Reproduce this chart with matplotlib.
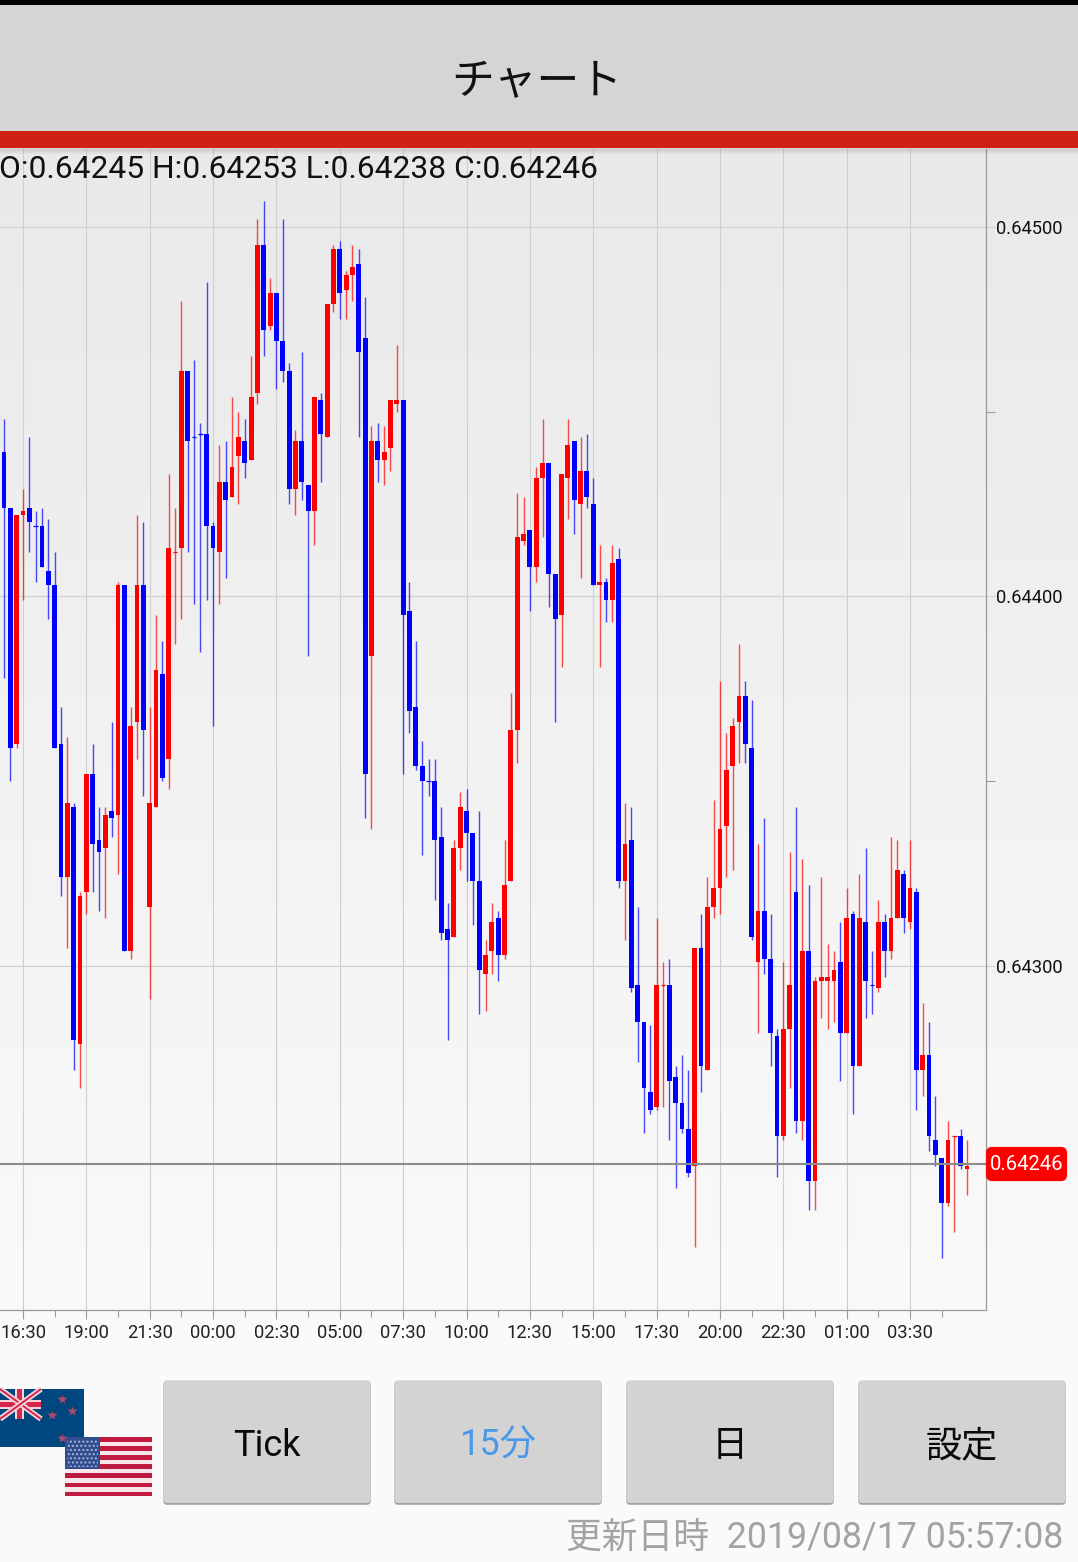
#!/usr/bin/env python3
# NZD/USD 15 minute candles as shown on the chart screen of the app. python3 plot.py -> out.png
import numpy as np
import matplotlib
matplotlib.use("Agg")
import matplotlib.pyplot as plt
from matplotlib.patches import Rectangle, FancyBboxPatch

JP = ["Roboto", "Noto Sans CJK JP", "DejaVu Sans"]
plt.rcParams["font.family"] = JP

# prices are in 0.00001 steps above 0.64000, first bar is three bars left of the 16:30 tick
first_bar = -3
opens = [439, 424, 360, 422, 424, 419, 419, 407, 403, 360,
         324, 343, 279, 320, 352, 334, 332, 342, 341, 403,
         304, 366, 403, 316, 343, 379, 356, 412, 413, 461,
         443, 444, 444, 419, 412, 431, 427, 438, 442, 437,
         455, 495, 473, 482, 469, 461, 429, 442, 430, 423,
         453, 443, 479, 494, 483, 487, 490, 470, 384, 442,
         437, 440, 452, 453, 396, 370, 354, 350, 350, 335,
         310, 308, 332, 342, 336, 323, 298, 304, 313, 303,
         323, 364, 415, 418, 408, 432, 436, 406, 395, 432,
         442, 425, 434, 425, 403, 404, 399, 410, 323, 334,
         295, 285, 266, 262, 295, 295, 270, 263, 256, 246,
         305, 272, 316, 321, 338, 354, 366, 373, 359, 301,
         315, 302, 281, 254, 283, 320, 258, 304, 242, 296,
         296, 296, 301, 282, 314, 273, 312, 295, 294, 312,
         304, 313, 325, 312, 320, 272, 276, 253, 248, 236,
         254, 254, 245]
closes = [424, 359, 422, 423, 420, 419, 408, 403, 359, 324,
          344, 280, 319, 352, 333, 331, 341, 340, 403, 304,
          365, 403, 364, 344, 380, 351, 413, 412, 461, 442,
          443, 444, 419, 413, 431, 426, 435, 443, 436, 454,
          495, 472, 482, 469, 461, 429, 442, 431, 423, 454,
          444, 479, 494, 482, 487, 489, 466, 352, 442, 437,
          439, 453, 453, 395, 369, 354, 350, 350, 334, 309,
          307, 332, 343, 336, 323, 299, 303, 312, 303, 322,
          364, 416, 417, 408, 432, 436, 406, 394, 433, 441,
          426, 434, 427, 403, 404, 399, 409, 323, 333, 294,
          285, 267, 261, 295, 295, 269, 263, 256, 244, 305,
          273, 316, 321, 337, 353, 365, 373, 360, 308, 315,
          302, 282, 254, 283, 295, 258, 304, 242, 296, 297,
          297, 299, 282, 313, 273, 313, 296, 295, 312, 304,
          313, 326, 313, 321, 272, 276, 254, 249, 236, 253,
          254, 246, 246]
highs = [448, 424, 422, 429, 443, 423, 424, 421, 412, 370,
         362, 344, 320, 352, 360, 343, 343, 366, 404, 403,
         370, 422, 420, 370, 395, 388, 433, 424, 480, 461,
         464, 447, 485, 420, 441, 442, 454, 450, 448, 465,
         502, 507, 486, 482, 502, 463, 445, 466, 430, 454,
         455, 479, 495, 496, 488, 495, 494, 481, 446, 447,
         446, 453, 468, 453, 404, 388, 361, 356, 356, 343,
         317, 334, 347, 348, 336, 342, 307, 317, 315, 334,
         374, 428, 427, 418, 435, 448, 436, 406, 433, 448,
         442, 443, 444, 432, 414, 405, 414, 413, 344, 343,
         316, 285, 284, 313, 301, 302, 273, 276, 272, 305,
         314, 324, 345, 377, 363, 367, 387, 377, 372, 333,
         340, 314, 283, 301, 331, 343, 329, 322, 297, 324,
         306, 304, 312, 321, 315, 325, 332, 304, 318, 314,
         335, 334, 326, 334, 321, 290, 285, 265, 248, 258,
         254, 256, 253]
lows = [378, 350, 359, 399, 412, 404, 408, 394, 359, 319,
        305, 272, 267, 314, 320, 315, 313, 335, 325, 304,
        302, 356, 346, 291, 343, 350, 348, 387, 394, 412,
        398, 385, 399, 365, 398, 405, 427, 425, 432, 437,
        452, 465, 472, 456, 458, 425, 422, 426, 384, 414,
        431, 443, 477, 475, 475, 480, 443, 340, 337, 431,
        430, 434, 450, 352, 363, 353, 330, 346, 318, 307,
        280, 308, 326, 323, 311, 287, 288, 298, 296, 302,
        323, 355, 414, 396, 404, 416, 397, 366, 381, 421,
        417, 405, 424, 403, 381, 393, 393, 321, 307, 293,
        274, 255, 260, 261, 262, 253, 240, 255, 243, 224,
        266, 272, 313, 314, 324, 326, 355, 355, 307, 282,
        298, 273, 243, 253, 267, 255, 253, 234, 234, 286,
        283, 285, 269, 282, 260, 273, 286, 287, 293, 297,
        302, 313, 309, 310, 261, 265, 250, 246, 221, 235,
        228, 245, 238]
red_doji_bars = [24, 101, 147]  # open == close but drawn red

time_ticks = list(range(0, 150, 10))
time_labels = ["16:30", "19:00", "21:30", "00:00", "02:30", "05:00", "07:30", "10:00",
               "12:30", "15:00", "17:30", "20:00", "22:30", "01:00", "03:30"]
price_ticks = [0.643, 0.644, 0.645]
price_minor = [0.6435, 0.6445]
last_price = 0.64246
last_line = 0.642465  # the app draws its line a touch above the close
ohlc_text = "O:0.64245 H:0.64253 L:0.64238 C:0.64246"
update_text = "更新日時  2019/08/17 05:57:08"
buttons = ["Tick", "15分", "日", "設定"]

W, H = 1078, 1562
fig = plt.figure(figsize=(W / 100, H / 100), dpi=100, facecolor="#fafafa")

# background fade behind the chart
bg = fig.add_axes([0, 0, 1, 1], zorder=0)
bg.imshow(np.linspace(0, 1, 256).reshape(-1, 1), cmap=matplotlib.colors.LinearSegmentedColormap.from_list(
    "fade", ["#e9e9e9", "#fafafa"]), extent=[0, W, 1320, 149], aspect="auto", vmin=0, vmax=1)
bg.set_xlim(0, W); bg.set_ylim(H, 0); bg.axis("off")

# candles
AX_L, AX_R, AX_T, AX_B = 0, 986, 149, 1310
ax = fig.add_axes([AX_L / W, 1 - AX_B / H, (AX_R - AX_L) / W, (AX_B - AX_T) / H], zorder=1)
ax.patch.set_alpha(0)
bars = np.arange(first_bar, first_bar + len(opens))
o, c, h, l = [0.64 + np.array(v) / 1e5 for v in (opens, closes, highs, lows)]
colors = []
for b, op, cl in zip(bars, o, c):
    up = cl > op or (cl == op and b in red_doji_bars)
    colors.append("#ff0000" if up else "#0000ff")
ax.grid(True, color="#cfcfcf", lw=0.8)
ax.set_axisbelow(True)
ax.vlines(bars, l, h, colors=colors, lw=1.0, alpha=0.7, zorder=2)
ax.bar(bars, c - o, bottom=o, width=0.76, color=colors, zorder=3)
doji = np.isclose(o, c)
ax.hlines(o[doji], bars[doji] - 0.38, bars[doji] + 0.38, colors=np.array(colors)[doji], lw=0.9, zorder=3)
ax.axhline(last_line, color="#8c8c8c", lw=1.5, zorder=4)

ax.set_xlim((AX_L - 23) / 6.336, (AX_R - 23) / 6.336)
ax.set_ylim(0.64207, 0.64521)
ax.set_xticks(time_ticks, time_labels)
ax.set_xticks([t + 5 for t in time_ticks], minor=True)
ax.yaxis.tick_right()
ax.set_yticks(price_ticks, [f"{p:.5f}" for p in price_ticks])
ax.set_yticks(price_minor, minor=True)
ax.tick_params(axis="x", which="major", length=6.5, width=0.8, color="#999999", pad=3.4, labelsize=13.2, labelcolor="#222222")
ax.tick_params(axis="x", which="minor", length=5, width=0.8, color="#999999")
ax.tick_params(axis="y", which="major", length=6.5, width=0.8, color="#cfcfcf", pad=0.5, labelsize=13.2, labelcolor="#111111")
ax.tick_params(axis="y", which="minor", length=6.5, width=0.8, color="#999999")
for side in ("top", "left"):
    ax.spines[side].set_visible(False)
for side in ("right", "bottom"):
    ax.spines[side].set_color("#999999")
    ax.spines[side].set_linewidth(0.9)

# app chrome, in screen pixels
ui = fig.add_axes([0, 0, 1, 1], zorder=2)
ui.set_xlim(0, W); ui.set_ylim(H, 0); ui.axis("off"); ui.patch.set_alpha(0)

def rect(x0, y0, x1, y1, color, **kw):
    ui.add_patch(Rectangle((x0, y0), x1 - x0, y1 - y0, facecolor=color, edgecolor="none", **kw))

rect(0, 0, W, 5, "#000000")
rect(0, 5, W, 131, "#d5d5d5")
rect(0, 131, W, 148, "#cf2015")
for i in range(6):
    rect(0, 148 + i, W, 149 + i, "#000000", alpha=0.14 - i * 0.022)
ui.text(537, 82, "チャート", fontsize=30.8, color="#111111", ha="center", va="center", family=["Noto Sans CJK JP"])
ui.text(-1, 170, ohlc_text, fontsize=22.85, color="#111111", ha="left", va="center", family="Roboto")

# last price tag
ui.add_patch(FancyBboxPatch((988, 1149), 77, 30, boxstyle="round,pad=0,rounding_size=4", facecolor="#ff0000", edgecolor="#ff0000", lw=3))
ui.text(1027, 1165, f"{last_price:.5f}", fontsize=14.6, color="white", ha="center", va="center", family="Roboto")

# flags
rect(0, 1389, 84, 1447, "#00477f")
for a, b in [((0, 1389), (41, 1419)), ((0, 1419), (41, 1389))]:
    ui.plot(*zip(a, b), color="#f4d5dc", lw=4, solid_capstyle="butt")
    ui.plot(*zip(a, b), color="#d8254a", lw=1.4, solid_capstyle="butt")
rect(0, 1400, 41, 1409, "#f4d5dc"); rect(15, 1389, 24, 1419, "#f4d5dc")
rect(0, 1402, 41, 1407, "#d8254a"); rect(17, 1389, 22, 1419, "#d8254a")
for sx, sy in [(62, 1399), (72, 1411), (52, 1415), (62, 1438)]:
    ui.plot(sx, sy, marker="*", ms=7, color="#a84a72", mec="none")
rect(65, 1437, 152, 1496, "#f8e6ea")
for i in range(7):
    rect(65, 1437 + i * 9.1, 152, 1441.5 + i * 9.1, "#bf1a3f")
rect(65, 1437, 100, 1469, "#2f4d8f")
ui.add_patch(Rectangle((67, 1439), 31, 28, facecolor="none", edgecolor="#a9b6d2", hatch="....", lw=0))

# buttons
labels_x = [163, 394, 626, 858]
for x0, name in zip(labels_x, buttons):
    ui.add_patch(FancyBboxPatch((x0 + 1, 1382), 206, 122, boxstyle="round,pad=0,rounding_size=3", facecolor="#949494", edgecolor="#949494", lw=1))
    ui.add_patch(FancyBboxPatch((x0 + 1, 1381), 206, 121.5, boxstyle="round,pad=0,rounding_size=3", facecolor="#d3d3d3", edgecolor="#d3d3d3", lw=1))
    ui.text(x0 + 104, 1446, name, fontsize=26, color="#4a98e8" if name == "15分" else "#0a0a0a",
            ha="center", va="center", family=JP)

ui.text(1063, 1538, update_text, fontsize=25.75, color="#a3a3a3", ha="right", va="center", family=JP)

fig.savefig("out.png", dpi=100, facecolor=fig.get_facecolor())
